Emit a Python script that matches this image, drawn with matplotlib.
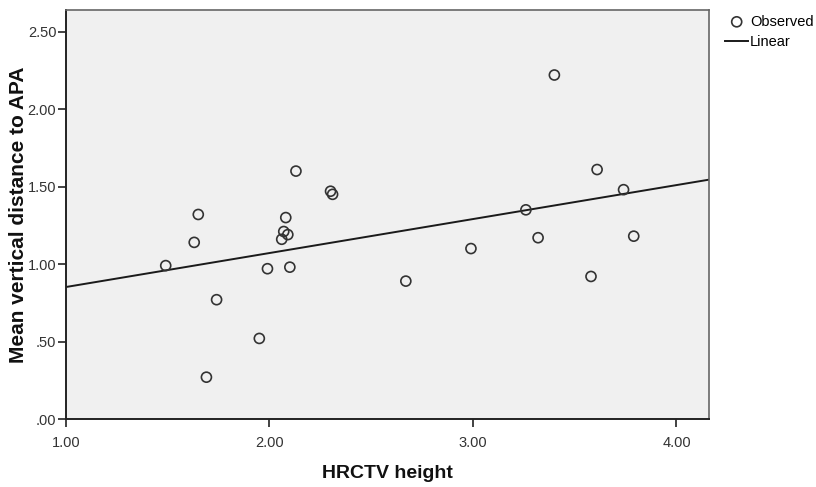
import numpy as np
import matplotlib
matplotlib.use("Agg")
import matplotlib.pyplot as plt

plt.rcParams['font.family'] = ['Liberation Sans', 'DejaVu Sans']

# HRCTV height vs mean vertical distance to APA
hrctv_height = [2.13, 2.30, 2.31, 1.65, 1.63, 1.49, 2.08, 2.07, 2.09, 2.06,
                1.99, 2.10, 1.74, 1.95, 1.69, 3.40, 3.61, 3.74, 3.26, 3.32,
                3.79, 2.99, 2.67, 3.58]
mean_distance = [1.60, 1.47, 1.45, 1.32, 1.14, 0.99, 1.30, 1.21, 1.19, 1.16,
                 0.97, 0.98, 0.77, 0.52, 0.27, 2.22, 1.61, 1.48, 1.35, 1.17,
                 1.18, 1.10, 0.89, 0.92]

x_ticks = [1.0, 2.0, 3.0, 4.0]
x_tick_labels = ['1.00', '2.00', '3.00', '4.00']
y_ticks = [0.0, 0.5, 1.0, 1.5, 2.0, 2.5]
y_tick_labels = ['.00', '.50', '1.00', '1.50', '2.00', '2.50']

fig = plt.figure(figsize=(8.16, 4.87), dpi=100)
ax = fig.add_axes([0.0809, 0.1396, 0.788, 0.84])
ax.set_facecolor('#f0f0f0')

# linear fit
slope, intercept = np.polyfit(hrctv_height, mean_distance, 1)
xmin, xmax = 1.0, 4.16
xs = np.array([xmin, xmax])

ax.scatter(hrctv_height, mean_distance, s=52, facecolors='none',
           edgecolors='#333333', linewidths=1.2, label='Observed', zorder=3)
ax.plot(xs, intercept + slope * xs, color='#1a1a1a', lw=1.4, label='Linear', zorder=2)

ax.set_xlim(xmin, xmax)
ax.set_ylim(0, 2.64)
ax.set_xticks(x_ticks)
ax.set_xticklabels(x_tick_labels)
ax.set_yticks(y_ticks)
ax.set_yticklabels(y_tick_labels)
ax.tick_params(direction='out', length=6, width=1.2, color='#222222',
               labelsize=10.5, labelcolor='#333333')
ax.tick_params(axis='x', pad=6)
ax.tick_params(axis='y', pad=1)

for side in ['top', 'right']:
    ax.spines[side].set_color('#666666')
    ax.spines[side].set_linewidth(1.2)
for side in ['left', 'bottom']:
    ax.spines[side].set_color('#222222')
    ax.spines[side].set_linewidth(1.4)

ax.set_xlabel('HRCTV height', fontsize=14, fontweight='bold', color='#111111')
ax.set_ylabel('Mean vertical distance to APA', fontsize=15, fontweight='bold', color='#111111')
ax.xaxis.set_label_coords(0.5, -0.132)
ax.yaxis.set_label_coords(-0.074, 0.5)
ax.xaxis.label.set_verticalalignment('center')
ax.yaxis.label.set_verticalalignment('center')

leg = ax.legend(loc='upper left', bbox_to_anchor=(1.0249, 0.9885), frameon=False,
                fontsize=10.5, handlelength=1.6, handletextpad=0.1,
                labelspacing=0.42, borderaxespad=0, borderpad=0)

fig.savefig('out.png', dpi=100)
